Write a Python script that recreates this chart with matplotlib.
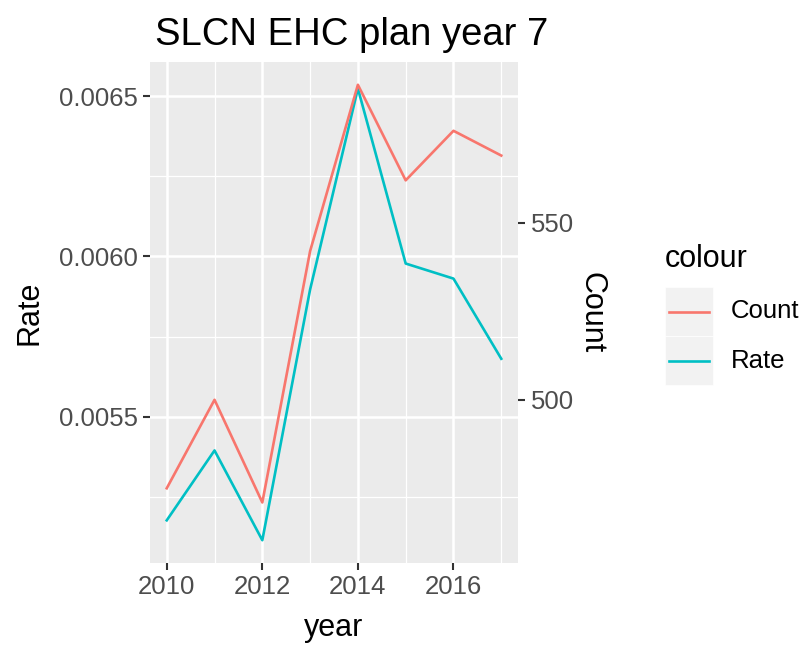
import matplotlib
matplotlib.use("Agg")
import matplotlib.pyplot as plt
from matplotlib.lines import Line2D
from matplotlib.patches import Rectangle
import numpy as np

plt.rcParams['font.family'] = ['Liberation Sans', 'DejaVu Sans']

# data
years = [2010, 2011, 2012, 2013, 2014, 2015, 2016, 2017]
rate = [0.005177, 0.005395, 0.005115, 0.005897, 0.006524, 0.005978, 0.005931, 0.005681]
count = [475, 500, 471, 542, 589, 562, 576, 569]

# secondary axis: count = rate * k + c
k = 50 / 0.000552
c = 500 - 0.005553 * k

rate_ticks = [0.0055, 0.0060, 0.0065]
rate_labels = ['0.0055', '0.0060', '0.0065']
count_ticks = [500, 550]
year_ticks = [2010, 2012, 2014, 2016]

count_col = '#F8766D'
rate_col = '#00BFC4'

W, H = 809, 646
fig = plt.figure(figsize=(W / 100, H / 100), dpi=100)
ax = fig.add_axes([150 / W, 1 - 563 / H, 368 / W, 501 / H])
ax.set_facecolor('#EBEBEB')
for s in ax.spines.values():
    s.set_visible(False)

# limits with ggplot style 5% expansion over both series (in rate units)
count_as_rate = (np.array(count) - c) / k
lo = min(min(rate), count_as_rate.min())
hi = max(max(rate), count_as_rate.max())
pad = (hi - lo) * 0.05
ax.set_ylim(lo - pad, hi + pad)
ax.set_xlim(min(years) - 0.35, max(years) + 0.35)

ax.set_yticks(rate_ticks)
ax.set_yticklabels(rate_labels)
ax.set_yticks([0.00525, 0.00575, 0.00625], minor=True)
ax.set_xticks(year_ticks)
ax.set_xticks([2011, 2013, 2015, 2017], minor=True)
ax.grid(True, which='major', color='white', linewidth=1.8)
ax.grid(True, which='minor', color='white', linewidth=0.9)
ax.set_axisbelow(True)
ax.tick_params(which='major', length=5, width=1.5, color='#333333',
               labelsize=18.5, labelcolor='#4D4D4D', pad=4)
ax.tick_params(which='minor', length=0)

ax.plot(years, rate, color=rate_col, linewidth=1.9, zorder=3)

ax2 = ax.twinx()
for s in ax2.spines.values():
    s.set_visible(False)
y0, y1 = ax.get_ylim()
ax2.set_ylim(y0 * k + c, y1 * k + c)
ax2.plot(years, count, color=count_col, linewidth=1.9, zorder=3)
ax2.set_yticks(count_ticks)
ax2.tick_params(length=5, width=1.5, color='#333333',
                labelsize=18.5, labelcolor='#4D4D4D', pad=4)
ax2.set_ylabel('Count', fontsize=22, rotation=270, labelpad=24)

ax.set_ylabel('Rate', fontsize=22, labelpad=10)
ax.set_xlabel('year', fontsize=22, labelpad=10)
ax.set_title('SLCN EHC plan year 7', fontsize=27.5, loc='left', x=5 / 368, pad=12)

# legend
fig.text(665 / W, 1 - 267 / H, 'colour', fontsize=22, va='baseline', ha='left')
for i, (lab, col) in enumerate([('Count', count_col), ('Rate', rate_col)]):
    top = 287 + i * 49
    fig.patches.append(Rectangle((665 / W, 1 - (top + 49) / H), 48 / W, 49 / H,
                                 transform=fig.transFigure, facecolor='#F2F2F2',
                                 edgecolor='white', linewidth=0.5))
    cy = 1 - (top + 24.5) / H
    fig.lines.append(Line2D([669 / W, 709 / W], [cy, cy], transform=fig.transFigure,
                            color=col, linewidth=1.9))
    fig.text(731 / W, cy, lab, fontsize=18.5, va='center', ha='left')

fig.savefig('out.png', dpi=100)
